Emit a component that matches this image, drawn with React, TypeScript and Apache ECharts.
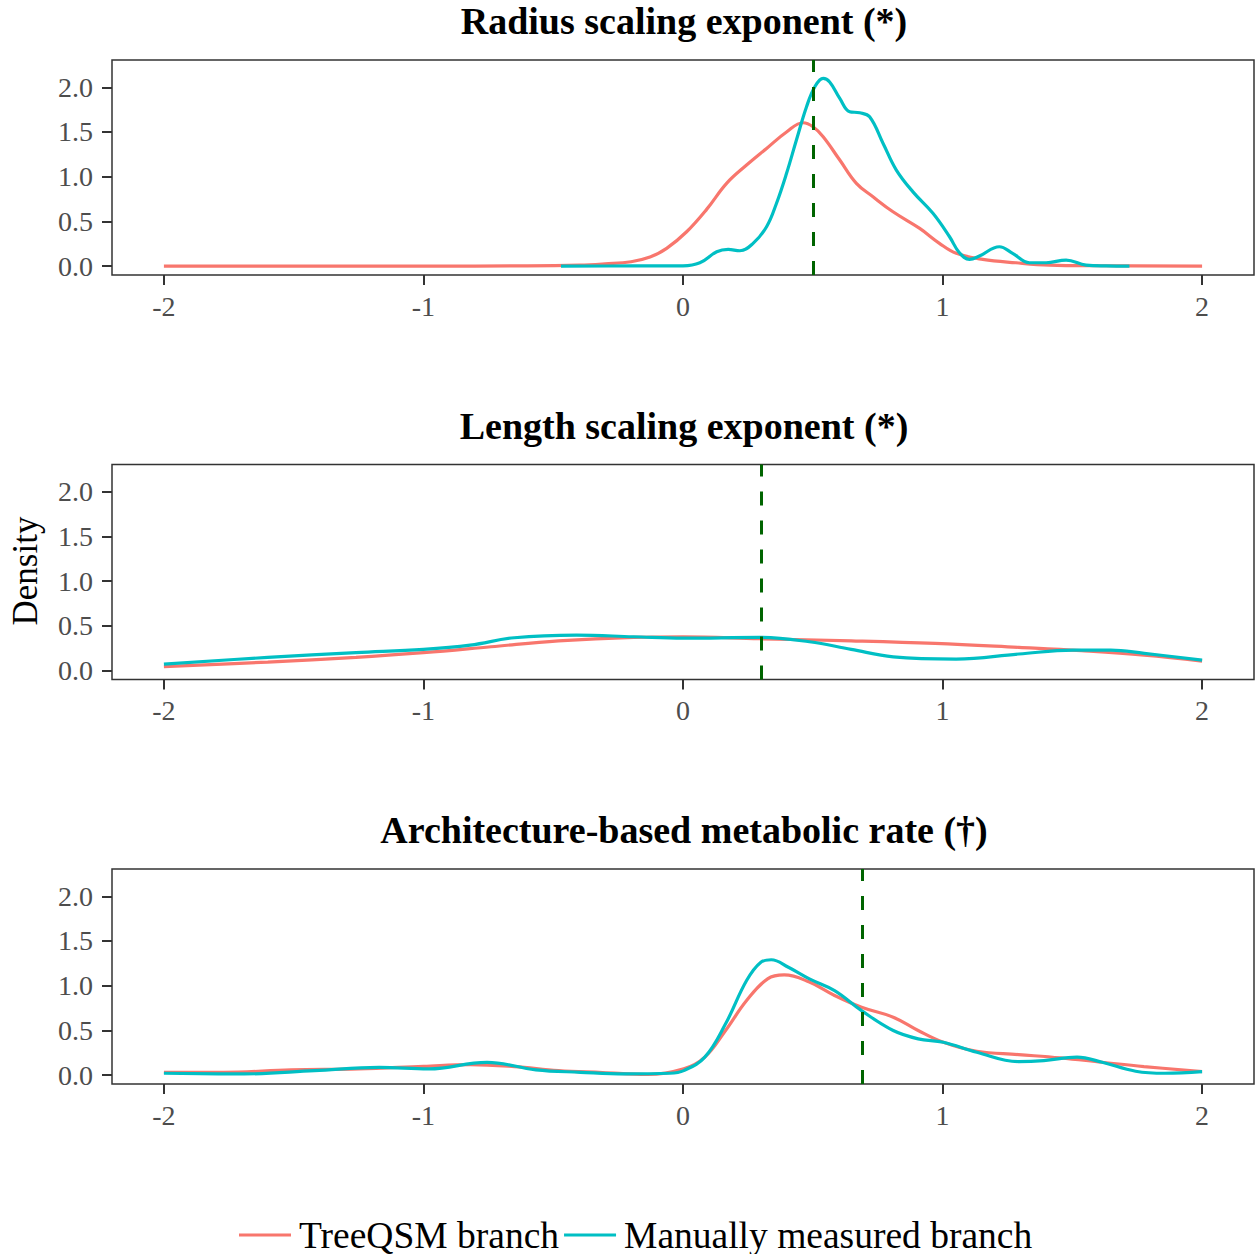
import React, { useEffect, useRef } from "react";
import * as echarts from "echarts";

const panelTitles = [
  "Radius scaling exponent (*)",
  "Length scaling exponent (*)",
  "Architecture-based metabolic rate (\u2020)",
];
const referenceValues = [0.5, 0.3, 0.69];
const xTicks = [-2, -1, 0, 1, 2];
const yTicks = [0, 0.5, 1, 1.5, 2];
const seriesNames = ["TreeQSM branch", "Manually measured branch"];

const radiusTreeQSM = [
  [-2, 0], [-1.5, 0], [-1, 0], [-0.6, 0.002], [-0.4, 0.01], [-0.3, 0.025], [-0.2, 0.048],
  [-0.127, 0.1], [-0.063, 0.198], [0.014, 0.384], [0.091, 0.634], [0.168, 0.925],
  [0.245, 1.13], [0.322, 1.316], [0.399, 1.5], [0.463, 1.603], [0.501, 1.558],
  [0.54, 1.446], [0.604, 1.186], [0.668, 0.925], [0.732, 0.775], [0.809, 0.607],
  [0.912, 0.421], [0.988, 0.254], [1.053, 0.142], [1.155, 0.075], [1.283, 0.037],
  [1.412, 0.011], [1.6, 0.004], [2, 0.0],
];
const radiusManual = [
  [-0.47, 0], [-0.2, 0.001], [0, 0.003], [0.065, 0.037], [0.13, 0.16], [0.174, 0.187],
  [0.219, 0.171], [0.27, 0.254], [0.322, 0.44], [0.36, 0.7], [0.399, 1.037],
  [0.437, 1.41], [0.476, 1.782], [0.508, 2.006], [0.54, 2.1], [0.565, 2.06],
  [0.604, 1.876], [0.642, 1.726], [0.681, 1.715], [0.719, 1.67], [0.771, 1.372],
  [0.822, 1.074], [0.886, 0.83], [0.963, 0.59], [1.027, 0.328], [1.065, 0.149],
  [1.104, 0.075], [1.142, 0.112], [1.219, 0.216], [1.27, 0.142], [1.335, 0.037],
  [1.399, 0.037], [1.476, 0.067], [1.553, 0.011], [1.63, 0.002], [1.72, 0],
];
const lengthTreeQSM = [
  [-2, 0.043], [-1.6, 0.095], [-1.26, 0.147], [-1, 0.2], [-0.74, 0.266], [-0.48, 0.333],
  [-0.19, 0.372], [0, 0.378], [0.295, 0.356], [0.648, 0.333], [0.971, 0.304],
  [1.294, 0.259], [1.535, 0.222], [1.777, 0.173], [2, 0.106],
];
const lengthManual = [
  [-2, 0.073], [-1.6, 0.147], [-1.26, 0.2], [-1, 0.237], [-0.82, 0.285], [-0.65, 0.367],
  [-0.41, 0.397], [-0.19, 0.378], [0, 0.362], [0.295, 0.371], [0.487, 0.322],
  [0.648, 0.237], [0.81, 0.154], [1.052, 0.129], [1.294, 0.185], [1.503, 0.229],
  [1.648, 0.229], [1.777, 0.192], [2, 0.117],
];
const metabolicTreeQSM = [
  [-2, 0.031], [-1.77, 0.031], [-1.51, 0.058], [-1.25, 0.069], [-1, 0.098], [-0.82, 0.117],
  [-0.65, 0.095], [-0.48, 0.05], [-0.31, 0.028], [-0.137, 0.006], [0.003, 0.069],
  [0.084, 0.2], [0.164, 0.498], [0.245, 0.833], [0.326, 1.076], [0.39, 1.12],
  [0.487, 1.04], [0.584, 0.89], [0.688, 0.758], [0.81, 0.647], [0.906, 0.498],
  [1.003, 0.367], [1.132, 0.266], [1.293, 0.229], [1.454, 0.192], [1.615, 0.143],
  [1.776, 0.095], [2, 0.039],
];
const metabolicManual = [
  [-2, 0.02], [-1.69, 0.013], [-1.42, 0.05], [-1.17, 0.087], [-0.98, 0.069], [-0.755, 0.143],
  [-0.567, 0.058], [-0.395, 0.031], [-0.223, 0.013], [-0.05, 0.02], [0.003, 0.05],
  [0.084, 0.2], [0.164, 0.573], [0.245, 1.057], [0.3, 1.262], [0.34, 1.29],
  [0.406, 1.206], [0.487, 1.076], [0.584, 0.945], [0.688, 0.721], [0.81, 0.498],
  [0.906, 0.405], [1.003, 0.367], [1.132, 0.255], [1.293, 0.151], [1.39, 0.162],
  [1.518, 0.2], [1.615, 0.143], [1.744, 0.043], [1.857, 0.02], [2, 0.039],
];

const panelData = [
  [radiusTreeQSM, radiusManual],
  [lengthTreeQSM, lengthManual],
  [metabolicTreeQSM, metabolicManual],
];

const RED = "#F8766D";
const TEAL = "#00BFC4";
const FONT = "'Liberation Serif', 'Times New Roman', serif";

export default function App() {
  const ref = useRef<HTMLDivElement>(null);
  useEffect(() => {
    document.body.style.margin = "0";
    if (!ref.current) return;
    const chart = echarts.init(ref.current, null, { renderer: "svg" });
    const gridTops = [60, 464.5, 869];
    const gridH = 215;
    const grids = gridTops.map((t) => ({
      left: 112,
      right: 4,
      top: t,
      height: gridH,
      show: true,
      borderColor: "#333333",
      borderWidth: 1.5,
      backgroundColor: "transparent",
    }));
    const xAxes = gridTops.map((_, i) => ({
      type: "value",
      gridIndex: i,
      min: -2.2,
      max: 2.2,
      position: "bottom",
      axisLine: { show: false, onZero: false },
      splitLine: { show: false },
      axisTick: { show: true, length: 10, lineStyle: { color: "#333333", width: 2 }, customValues: xTicks },
      axisLabel: {
        customValues: xTicks,
        formatter: (v: number) => String(v),
        fontFamily: FONT,
        fontSize: 28,
        color: "#4D4D4D",
        margin: 17,
      },
    }));
    const yAxes = gridTops.map((_, i) => ({
      type: "value",
      gridIndex: i,
      min: -0.1,
      max: 2.305,
      position: "left",
      axisLine: { show: false, onZero: false },
      splitLine: { show: false },
      axisTick: { show: true, length: 10, lineStyle: { color: "#333333", width: 2 }, customValues: yTicks },
      axisLabel: {
        customValues: yTicks,
        formatter: (v: number) => v.toFixed(1),
        fontFamily: FONT,
        fontSize: 28,
        color: "#4D4D4D",
        margin: 19,
      },
    }));
    const series: any[] = [];
    panelData.forEach((pair, i) => {
      pair.forEach((d, j) => {
        series.push({
          type: "line",
          name: seriesNames[j],
          xAxisIndex: i,
          yAxisIndex: i,
          data: d,
          smooth: 0.4,
          showSymbol: false,
          symbol: "none",
          color: j === 0 ? RED : TEAL,
          lineStyle: { width: 3.2, color: j === 0 ? RED : TEAL },
          z: 2 + j,
          markLine:
            j === 1
              ? {
                  silent: true,
                  symbol: "none",
                  label: { show: false },
                  lineStyle: { type: [14, 15], color: "#006400", width: 3 },
                  data: [{ xAxis: referenceValues[i] }],
                  z: 5,
                }
              : undefined,
        });
      });
    });
    const titleTops = [-3, 401.5, 806];
    chart.setOption({
      animation: false,
      title: panelTitles.map((t, i) => ({
        text: t,
        left: 679,
        top: titleTops[i],
        textAlign: "center",
        textStyle: { fontFamily: FONT, fontWeight: "bold", fontSize: 38, color: "#000" },
      })),
      grid: grids,
      xAxis: xAxes,
      yAxis: yAxes,
      legend: {
        data: seriesNames,
        left: 234,
        top: 1211,
        icon: "rect",
        itemWidth: 52,
        itemHeight: 3,
        itemGap: 5,
        textStyle: { fontFamily: FONT, fontSize: 37.5, color: "#000", padding: [0, 0, 0, 3] },
      },
      graphic: [
        {
          type: "text",
          x: 25,
          y: 571,
          rotation: Math.PI / 2,
          style: {
            text: "Density",
            font: `35px ${FONT}`,
            fill: "#000",
            textAlign: "center",
            textVerticalAlign: "middle",
          },
        },
      ],
      series,
    });
    return () => chart.dispose();
  }, []);
  return <div ref={ref} style={{ width: 1258, height: 1254 }} />;
}
